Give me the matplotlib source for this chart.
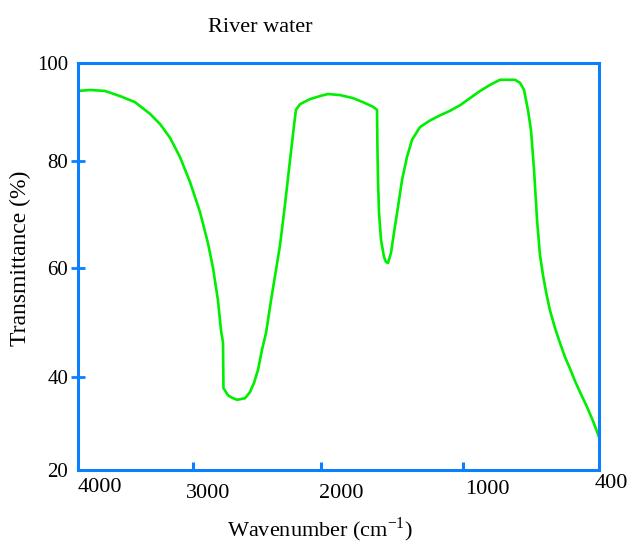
import matplotlib
matplotlib.use("Agg")
import matplotlib.pyplot as plt

plt.rcParams['font.family'] = ['Liberation Serif', 'DejaVu Serif']
plt.rcParams['mathtext.fontset'] = 'custom'
plt.rcParams['mathtext.rm'] = 'Liberation Serif'

# spectrum (wavenumber cm-1, transmittance %)
wavenumber = [4000, 3917, 3813, 3710, 3606, 3502, 3433, 3364, 3295, 3226,
              3157, 3102, 3067, 3046, 3033, 3012, 2998, 2995, 2964, 2936,
              2901, 2846, 2812, 2784, 2756, 2729, 2701, 2666, 2632, 2604,
              2570, 2535, 2507, 2494, 2466, 2397, 2328, 2273, 2190, 2100,
              2031, 1962, 1934, 1931, 1927, 1920, 1906, 1886, 1872, 1858,
              1837, 1817, 1789, 1761, 1727, 1692, 1637, 1568, 1499, 1430,
              1360, 1291, 1222, 1153, 1084, 980, 946, 918, 891, 870,
              849, 828, 808, 787, 766, 739, 704, 670, 635, 600,
              566, 531, 483, 441, 400]
transmittance = [94.5, 94.7, 94.5, 93.5, 92.3, 90.0, 88.0, 85.3, 81.5, 76.6,
                 70.7, 64.6, 59.7, 55.8, 53.4, 47.5, 45.0, 36.1, 34.7, 34.2,
                 33.8, 34.1, 35.3, 37.1, 39.7, 43.6, 46.9, 53.4, 59.3, 64.2,
                 72.1, 80.9, 87.8, 90.8, 91.9, 92.9, 93.5, 93.9, 93.7, 93.1,
                 92.3, 91.4, 90.8, 83.5, 77.0, 70.5, 65.2, 61.9, 60.9, 60.7,
                 62.7, 66.6, 71.7, 77.0, 81.5, 84.9, 87.4, 88.7, 89.7, 90.6,
                 91.7, 93.1, 94.5, 95.7, 96.7, 96.7, 96.1, 94.7, 90.8, 86.8,
                 79.0, 69.1, 62.3, 58.3, 55.0, 51.4, 47.9, 45.0, 42.2, 39.9,
                 37.5, 35.3, 32.4, 29.6, 26.5]

# axis labels as drawn in the original (positions are uneven there)
ytick_pos = [100, 80.7, 59.7, 38.3, 20]
ytick_labels = ['100', '80', '60', '40', '20']
xtick_marks = [3205, 2321, 1340]
xlabel_pos = [4000, 3254, 2335, 1326, 428]
xlabel_text = ['4000', '3000', '2000', '1000', '400']
xlabel_y = [-0.042, -0.057, -0.057, -0.049, -0.032]

blue = '#0a80ff'
green = '#00ee00'

fig = plt.figure(figsize=(6.32, 5.44), dpi=100)
ax = fig.add_axes([78 / 632, 1 - 470 / 544, 521 / 632, 407 / 544])

ax.plot(wavenumber, transmittance, color=green, lw=1.9)

ax.set_xlim(4000, 400)
ax.set_ylim(20, 100)

for sp in ax.spines.values():
    sp.set_color(blue)
    sp.set_linewidth(2.2)

ax.set_yticks(ytick_pos)
ax.set_yticklabels(ytick_labels, fontsize=15)
ax.tick_params(axis='y', direction='inout', length=10, width=2, color=blue, pad=2)
ticks = ax.yaxis.get_major_ticks()
ticks[0].tick1line.set_visible(False)
ticks[-1].tick1line.set_visible(False)

ax.set_xticks(xtick_marks)
ax.set_xticklabels([])
ax.tick_params(axis='x', direction='in', length=6, width=2.2, color=blue)

tr = ax.get_xaxis_transform()
for pos, txt, yy in zip(xlabel_pos, xlabel_text, xlabel_y):
    ax.text(pos, yy, txt, transform=tr, ha='left', va='center', fontsize=16,
            clip_on=False)

fig.text(260 / 632, 1 - 28 / 544, 'River water', ha='center', va='center', fontsize=16)
fig.text(320 / 632, 1 - 530 / 544, 'Wavenumber (cm$^{-1}$)', ha='center',
         va='center', fontsize=16)
fig.text(20 / 632, 1 - 258 / 544, 'Transmittance (%)', ha='center', va='center',
         rotation=90, fontsize=17)

fig.savefig('out.png', dpi=100)
